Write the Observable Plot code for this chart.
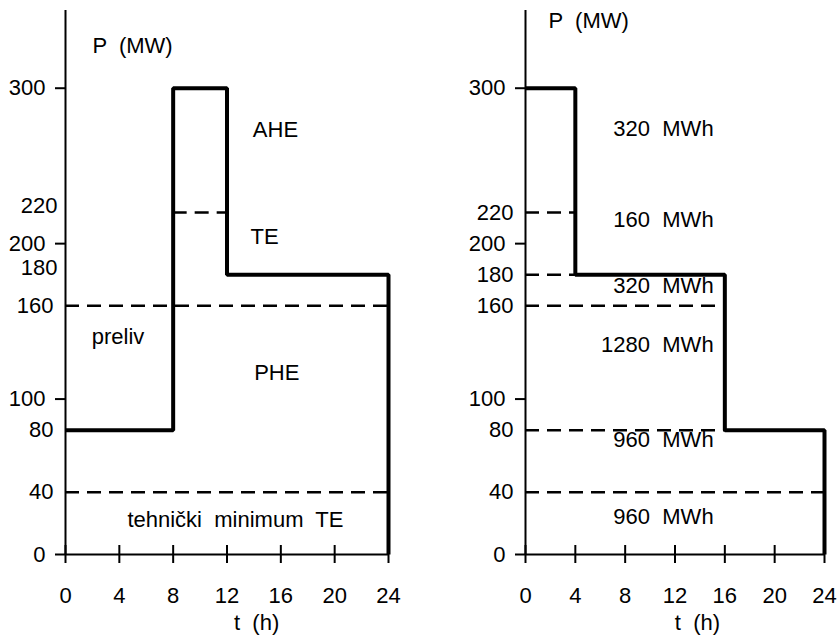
<!DOCTYPE html>
<html>
<head>
<meta charset="utf-8">
<script src="https://cdn.jsdelivr.net/npm/d3@7"></script>
<script src="https://cdn.jsdelivr.net/npm/@observablehq/plot@0.6"></script>
<style>
  body { margin: 0; background: white; }
  #wrap { position: relative; width: 839px; height: 635px; overflow: hidden; }
  #left, #right { position: absolute; top: 0; }
  #left { left: 0; }
  #right { left: 420px; }
</style>
</head>
<body>
<div id="wrap"><div id="left"></div><div id="right"></div></div>
<script>
// ---- shared ticks ----
const xTicks = [0, 4, 8, 12, 16, 20, 24];
const yTicks = [0, 100, 200, 300];
const yDomainMax = 350;

// ---- left panel data ----
const leftStepT = [0, 8, 12, 24];
const leftStepP = [80, 300, 180, 0];
const leftDashP = [220, 160, 40];
const leftDashT1 = [8, 0, 0];
const leftDashT2 = [12, 24, 24];
const leftExtraTicksUpper = [220, 180];
const leftExtraTicksLower = [160, 80, 40];
const leftLabels = ["AHE", "TE", "preliv", "PHE"];
const leftLabelT = [15.6, 14.8, 3.9, 15.7];
const leftLabelP = [273, 204, 140, 117];
const leftNoteText = ["tehnički  minimum  TE"];
const leftNoteT = [4.6];
const leftNoteP = [22];

// ---- right panel data ----
const rightStepT = [0, 4, 16, 24];
const rightStepP = [300, 180, 80, 0];
const rightDashP = [220, 180, 160, 80, 40];
const rightDashT1 = [0, 0, 0, 0, 0];
const rightDashT2 = [4, 4, 16, 16, 24];
const rightExtraTicks = [220, 180, 160, 80, 40];
const rightLabels = ["320  MWh", "160  MWh", "320  MWh", "1280  MWh", "960  MWh", "960  MWh"];
const rightLabelT = [15.1, 15.1, 15.1, 15.1, 15.1, 15.1];
const rightLabelP = [274, 215, 173, 134.5, 73.5, 24];

// ---- axis titles ----
const yTitle = "P  (MW)";
const xTitle = "t  (h)";
const leftYTitlePos = [2.0, 327];
const rightYTitlePos = [1.85, 343.5];
const leftXTitleT = 14.2;
const rightXTitleT = 13.8;

const FS = 22;
const FONT = "'Liberation Sans', Arial, Helvetica, sans-serif";
const PLOT_H = 635, M_TOP = 10, M_BOTTOM = 81;
const pxPerMW = (PLOT_H - M_TOP - M_BOTTOM) / yDomainMax;
const TICK_HALF = 9; // px each side of the x axis

function panel({width, marginLeft, marginRight, stepT, stepP, dashP, dashT1, dashT2,
                extraAxes, labels, labelT, labelP, labelAnchor, yTitlePos, xTitleT, extraMarks}) {
  const steps = stepT.map((t, i) => ({t, p: stepP[i]}));
  const dashes = dashP.map((p, i) => ({p, t1: dashT1[i], t2: dashT2[i]}));
  const lab = labels.map((s, i) => ({s, t: labelT[i], p: labelP[i]}));
  const tickSpan = TICK_HALF / pxPerMW;
  return Plot.plot({
    width, height: PLOT_H,
    marginLeft, marginRight, marginTop: M_TOP, marginBottom: M_BOTTOM,
    style: {fontFamily: FONT, fontSize: FS + "px", color: "black", background: "white", overflow: "visible"},
    x: {domain: [0, 24]},
    y: {domain: [0, yDomainMax]},
    marks: [
      // dashed guide lines
      Plot.ruleY(dashes, {y: "p", x1: "t1", x2: "t2", stroke: "black", strokeWidth: 2.5, strokeDasharray: "14,8"}),
      // axes lines
      Plot.ruleX([0], {stroke: "black", strokeWidth: 2}),
      Plot.ruleY([0], {stroke: "black", strokeWidth: 2}),
      // x ticks crossing the axis
      Plot.ruleX(xTicks, {x: d => d, y1: -tickSpan, y2: tickSpan, stroke: "black", strokeWidth: 2}),
      Plot.axisX(xTicks, {tickSize: 0, tickPadding: 33, fontSize: FS, tickFormat: d => String(d), label: null}),
      // y ticks
      Plot.axisY(yTicks, {tickSize: 10, tickPadding: 10, stroke: "black", strokeWidth: 2, fontSize: FS, tickFormat: d => String(d), label: null}),
      ...extraAxes,
      // step load curve
      Plot.line(steps, {x: "t", y: "p", curve: "step-after", stroke: "black", strokeWidth: 4, strokeLinejoin: "miter", strokeLinecap: "butt"}),
      // region labels
      Plot.text(lab, {x: "t", y: "p", text: "s", textAnchor: labelAnchor, fontSize: FS, fill: "black"}),
      ...extraMarks,
      // axis titles
      Plot.text([yTitle], {x: yTitlePos[0], y: yTitlePos[1], text: d => d, textAnchor: "start", fontSize: FS, fill: "black"}),
      Plot.text([xTitle], {x: xTitleT, frameAnchor: "bottom", lineAnchor: "middle", dy: 68, text: d => d, fontSize: FS, fill: "black"})
    ]
  });
}

const left = panel({
  width: 400, marginLeft: 65, marginRight: 12,
  stepT: leftStepT, stepP: leftStepP,
  dashP: leftDashP, dashT1: leftDashT1, dashT2: leftDashT2,
  extraAxes: [
    Plot.axisY(leftExtraTicksUpper, {tickSize: 0, tickPadding: 8, dy: -7, fontSize: FS, tickFormat: d => String(d), label: null}),
    Plot.axisY(leftExtraTicksLower, {tickSize: 0, tickPadding: 12, fontSize: FS, tickFormat: d => String(d), label: null})
  ],
  labels: leftLabels, labelT: leftLabelT, labelP: leftLabelP, labelAnchor: "middle",
  yTitlePos: leftYTitlePos, xTitleT: leftXTitleT,
  extraMarks: [
    Plot.text(leftNoteText.map((s, i) => ({s, t: leftNoteT[i], p: leftNoteP[i]})), {x: "t", y: "p", text: "s", textAnchor: "start", fontSize: FS, fill: "black"})
  ]
});

const right = panel({
  width: 419, marginLeft: 105, marginRight: 15,
  stepT: rightStepT, stepP: rightStepP,
  dashP: rightDashP, dashT1: rightDashT1, dashT2: rightDashT2,
  extraAxes: [
    Plot.axisY(rightExtraTicks, {tickSize: 0, tickPadding: 12, fontSize: FS, tickFormat: d => String(d), label: null})
  ],
  labels: rightLabels, labelT: rightLabelT, labelP: rightLabelP, labelAnchor: "end",
  yTitlePos: rightYTitlePos, xTitleT: rightXTitleT,
  extraMarks: []
});

document.getElementById("left").appendChild(left);
document.getElementById("right").appendChild(right);
</script>
</body>
</html>
